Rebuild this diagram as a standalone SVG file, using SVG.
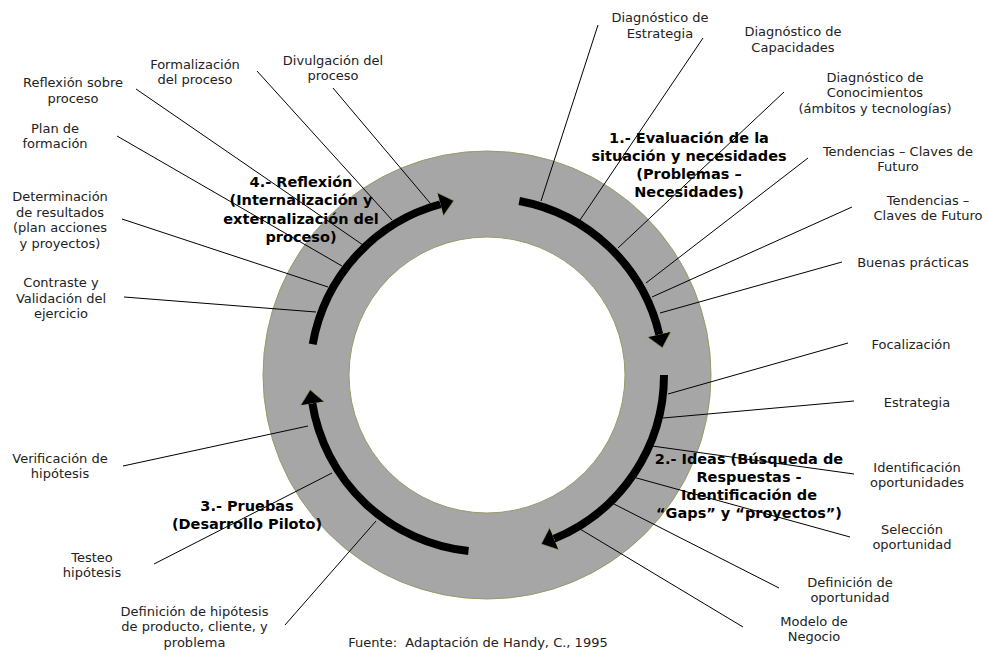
<svg xmlns="http://www.w3.org/2000/svg" width="985" height="650" viewBox="0 0 985 650">
<defs>
<style>
.lbl{font-family:"DejaVu Sans",Verdana,sans-serif;font-size:13px;fill:#222;text-anchor:middle}
.ph{font-family:"DejaVu Sans",Verdana,sans-serif;font-size:14.5px;font-weight:bold;fill:#000;text-anchor:middle}
.arc{fill:none;stroke:#000;stroke-width:8;marker-end:url(#head)}
.con line{stroke:#000;stroke-width:1}
</style>
<marker id="head" markerUnits="userSpaceOnUse" viewBox="0 -13 15 26" markerWidth="15" markerHeight="26" refX="1" refY="0" orient="auto">
<path d="M0,-12 L14,0 L0,12 z" fill="#000" stroke="#9a9a5e" stroke-width="0.6"/>
</marker>
</defs>
<rect width="985" height="650" fill="#fff"/>
<g id="cycle">
<circle cx="487" cy="375" r="224" fill="#a6a6a6" stroke="#9a9a66" stroke-width="1"/>
<circle cx="487" cy="375" r="138" fill="#fff" stroke="#9a9a66" stroke-width="1"/>
<path class="arc" d="M519.25,200.96 A177,177 0 0 1 659.47,335.18"/>
<path class="arc" d="M664,375 A177,177 0 0 1 553.3,539.1"/>
<path class="arc" d="M468.5,551 A177,177 0 0 1 312.2,402.7"/>
<path class="arc" d="M312.7,344.3 A177,177 0 0 1 441.2,204"/>
</g>
<g id="fase1"><text class="ph" x="689"><tspan x="689" y="143">1.- Evaluación de la</tspan><tspan x="689" y="161">situación y necesidades</tspan><tspan x="689" y="179">(Problemas –</tspan><tspan x="689" y="197">Necesidades)</tspan></text></g>
<g id="fase2"><text class="ph" x="749"><tspan x="749" y="464">2.- Ideas (Búsqueda de</tspan><tspan x="749" y="482">Respuestas -</tspan><tspan x="749" y="500">Identificación de</tspan><tspan x="749" y="518">“Gaps” y “proyectos”)</tspan></text></g>
<g id="fase3"><text class="ph" x="247"><tspan x="247" y="511">3.- Pruebas</tspan><tspan x="247" y="529">(Desarrollo Piloto)</tspan></text></g>
<g id="fase4"><text class="ph" x="301"><tspan x="301" y="187">4.- Reflexión</tspan><tspan x="301" y="205">(Internalización y</tspan><tspan x="301" y="224">externalización del</tspan><tspan x="301" y="242">proceso)</tspan></text></g>
<g id="diag-estrategia"><text class="lbl"><tspan x="660" y="21.5">Diagnóstico de</tspan><tspan x="660" y="37.5">Estrategia</tspan></text></g>
<g id="diag-capacidades"><text class="lbl"><tspan x="793" y="35.5">Diagnóstico de</tspan><tspan x="793" y="51.5">Capacidades</tspan></text></g>
<g id="diag-conocimientos"><text class="lbl"><tspan x="875" y="81.5">Diagnóstico de</tspan><tspan x="875" y="97">Conocimientos</tspan><tspan x="875" y="112.5">(ámbitos y tecnologías)</tspan></text></g>
<g id="tendencias-1"><text class="lbl"><tspan x="898" y="155.5">Tendencias – Claves de</tspan><tspan x="898" y="171">Futuro</tspan></text></g>
<g id="tendencias-2"><text class="lbl"><tspan x="928" y="204.5">Tendencias –</tspan><tspan x="928" y="220">Claves de Futuro</tspan></text></g>
<g id="buenas-practicas"><text class="lbl" x="913" y="266.5">Buenas prácticas</text></g>
<g id="focalizacion"><text class="lbl" x="911" y="348.5">Focalización</text></g>
<g id="estrategia"><text class="lbl" x="917" y="406.5">Estrategia</text></g>
<g id="identificacion"><text class="lbl"><tspan x="917" y="471.5">Identificación</tspan><tspan x="917" y="487">oportunidades</tspan></text></g>
<g id="seleccion"><text class="lbl"><tspan x="912" y="533.5">Selección</tspan><tspan x="912" y="549">oportunidad</tspan></text></g>
<g id="definicion-oportunidad"><text class="lbl"><tspan x="850" y="586.5">Definición de</tspan><tspan x="850" y="602">oportunidad</tspan></text></g>
<g id="modelo-negocio"><text class="lbl"><tspan x="814" y="625.5">Modelo de</tspan><tspan x="814" y="641">Negocio</tspan></text></g>
<g id="fuente"><text class="lbl" x="478" y="647" style="white-space:pre">Fuente:  Adaptación de Handy, C., 1995</text></g>
<g id="definicion-hipotesis"><text class="lbl"><tspan x="194.5" y="615.5">Definición de hipótesis</tspan><tspan x="194.5" y="631">de producto, cliente, y</tspan><tspan x="194.5" y="646.5">problema</tspan></text></g>
<g id="testeo"><text class="lbl"><tspan x="92" y="561.5">Testeo</tspan><tspan x="92" y="577">hipótesis</tspan></text></g>
<g id="verificacion"><text class="lbl"><tspan x="60" y="462.5">Verificación de</tspan><tspan x="60" y="478">hipótesis</tspan></text></g>
<g id="contraste"><text class="lbl"><tspan x="61" y="287">Contraste y</tspan><tspan x="61" y="302.5">Validación del</tspan><tspan x="61" y="318">ejercicio</tspan></text></g>
<g id="determinacion"><text class="lbl"><tspan x="60" y="201">Determinación</tspan><tspan x="60" y="216.5">de resultados</tspan><tspan x="60" y="232">(plan acciones</tspan><tspan x="60" y="247.5">y proyectos)</tspan></text></g>
<g id="plan-formacion"><text class="lbl"><tspan x="55" y="132.5">Plan de</tspan><tspan x="55" y="148">formación</tspan></text></g>
<g id="reflexion-sobre"><text class="lbl"><tspan x="73" y="87">Reflexión sobre</tspan><tspan x="73" y="102.5">proceso</tspan></text></g>
<g id="formalizacion"><text class="lbl"><tspan x="195" y="68.5">Formalización</tspan><tspan x="195" y="84">del proceso</tspan></text></g>
<g id="divulgacion"><text class="lbl"><tspan x="333" y="64.5">Divulgación del</tspan><tspan x="333" y="80">proceso</tspan></text></g>
<g id="connectors" class="con">
<line x1="598" y1="25" x2="541" y2="201"/>
<line x1="703" y1="38" x2="580" y2="220"/>
<line x1="784" y1="92" x2="618" y2="248"/>
<line x1="808" y1="158" x2="646" y2="283"/>
<line x1="852" y1="207" x2="652" y2="297"/>
<line x1="842" y1="262" x2="660" y2="313"/>
<line x1="848" y1="343" x2="668" y2="394"/>
<line x1="854" y1="401" x2="663" y2="418"/>
<line x1="854" y1="474" x2="652" y2="446"/>
<line x1="850" y1="537" x2="633" y2="477"/>
<line x1="779" y1="588" x2="612" y2="503"/>
<line x1="743" y1="627" x2="580" y2="529"/>
<line x1="285" y1="625" x2="376" y2="521"/>
<line x1="154" y1="564" x2="332" y2="473"/>
<line x1="123" y1="466" x2="308" y2="426"/>
<line x1="124" y1="297" x2="316" y2="312"/>
<line x1="122" y1="219" x2="328" y2="287"/>
<line x1="117" y1="136" x2="342" y2="266"/>
<line x1="136" y1="89" x2="363" y2="245"/>
<line x1="257" y1="71" x2="392" y2="220"/>
<line x1="333" y1="88" x2="430" y2="203"/>
</g>
</svg>
